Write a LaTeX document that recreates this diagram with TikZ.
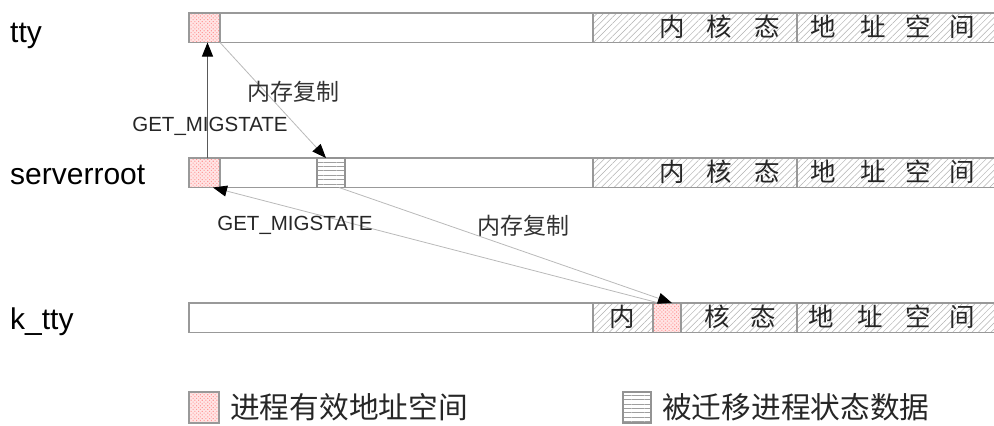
\documentclass[tikz,border=0pt]{standalone}
\usepackage{fontspec}
\setmainfont{Liberation Sans}
\newfontfamily\cjk{Noto Sans CJK SC}
\usetikzlibrary{arrows.meta,patterns.meta}
\begin{document}
\begin{tikzpicture}[x=1pt,y=-1pt,
  rowlbl/.style={anchor=base west,inner sep=0pt,font=\fontsize{30pt}{36pt}\selectfont},
  getlbl/.style={inner sep=0pt,font=\fontsize{20.5pt}{24pt}\selectfont,text=black!85},
  memlbl/.style={inner sep=0pt,font=\cjk\fontsize{23pt}{26pt}\selectfont,text=black!80},
  kchar/.style={inner sep=0pt,font=\cjk\fontsize{25.5pt}{28pt}\selectfont,text=black!85},
  legtext/.style={anchor=west,inner sep=0pt,font=\cjk\fontsize{29.7pt}{34pt}\selectfont,text=black!85},
  barbox/.style={draw=gray!80,line width=1.4pt,fill=white,inner sep=0pt,outer sep=0pt,anchor=north west,minimum height=29.5pt},
  hatchbox/.style={draw=gray!80,line width=1.4pt,inner sep=0pt,outer sep=0pt,anchor=north west,minimum height=29.5pt,
     preaction={fill=white},pattern={Lines[angle=45,distance=4.5pt,line width=0.5pt]},pattern color=gray!60},
  redbox/.style={draw=gray!80,line width=1.4pt,inner sep=0pt,outer sep=0pt,anchor=north west,minimum height=29.5pt,
     preaction={fill=red!10},pattern={Dots[distance=2.6pt,radius=0.75pt,angle=45]},pattern color=red!40},
  stripbox/.style={draw=gray!85,line width=1.4pt,inner sep=0pt,outer sep=0pt,anchor=north west,minimum height=29.5pt,
     preaction={fill=white},pattern={Lines[angle=0,distance=4.4pt,line width=0.8pt]},pattern color=gray!75},
  arr/.style={line width=0.8pt,draw=gray!55,-{Triangle[length=14pt,width=11pt,color=black]}},
  varr/.style={line width=0.9pt,draw=black!65,-{Triangle[length=14pt,width=11pt,color=black]}}
]
\useasboundingbox (0,0) rectangle (994,426);
\clip (0,0) rectangle (994,426);

% row labels
\node[rowlbl] (lt) at (10,42) {tty};
\node[rowlbl] (ls) at (10,184) {serverroot};
\node[rowlbl] (lk) at (10,329) {k\_tty};

% tty bar
\node[barbox,minimum width=812pt] (tbar) at (189,13) {};
\node[hatchbox,minimum width=204pt] (tk1) at (593,13) {};
\node[hatchbox,minimum width=205pt] (tk2) at (797,13) {};
\node[redbox,minimum width=31pt] (tred) at (189,13) {};
\node[kchar] (tc1) at (672,26.5) {内};
\node[kchar] (tc2) at (719,26.5) {核};
\node[kchar] (tc3) at (767,26.5) {态};
\node[kchar] (tc4) at (823,26.5) {地};
\node[kchar] (tc5) at (873,26.5) {址};
\node[kchar] (tc6) at (918,26.5) {空};
\node[kchar] (tc7) at (962,26.5) {间};

% serverroot bar
\node[barbox,minimum width=812pt] (sbar) at (189,158) {};
\node[hatchbox,minimum width=204pt] (sk1) at (593,158) {};
\node[hatchbox,minimum width=205pt] (sk2) at (797,158) {};
\node[redbox,minimum width=31pt] (sred) at (189,158) {};
\node[stripbox,minimum width=28pt] (sstr) at (317,158) {};
\node[kchar] (sc1) at (672,171.5) {内};
\node[kchar] (sc2) at (719,171.5) {核};
\node[kchar] (sc3) at (767,171.5) {态};
\node[kchar] (sc4) at (823,171.5) {地};
\node[kchar] (sc5) at (873,171.5) {址};
\node[kchar] (sc6) at (918,171.5) {空};
\node[kchar] (sc7) at (962,171.5) {间};

% k_tty bar
\node[barbox,minimum width=812pt] (kbar) at (189,303) {};
\node[hatchbox,minimum width=204pt] (kk1) at (593,303) {};
\node[hatchbox,minimum width=205pt] (kk2) at (797,303) {};
\node[redbox,minimum width=28pt] (kred) at (653,303) {};
\node[kchar] (kc1) at (622,316.5) {内};
\node[kchar] (kc2) at (717,316.5) {核};
\node[kchar] (kc3) at (763,316.5) {态};
\node[kchar] (kc4) at (821,316.5) {地};
\node[kchar] (kc5) at (870,316.5) {址};
\node[kchar] (kc6) at (918,316.5) {空};
\node[kchar] (kc7) at (962,316.5) {间};

% connectors
\draw[varr] ([xshift=3pt]sred.north) -- ([xshift=3pt]tred.south);
\draw[arr] (tred.south east) -- ([xshift=-5pt]sstr.north);
\draw[arr] ([xshift=6pt]kred.north west) -- ([xshift=-7pt]sred.south east);
\draw[arr] ([xshift=-6pt]sstr.south east) -- ([xshift=19pt]kred.north west);

% connector labels
\node[getlbl] (g1) at (210,126) {GET\_MIGSTATE};
\node[memlbl] (m1) at (293,92) {内存复制};
\node[getlbl] (g2) at (295,225) {GET\_MIGSTATE};
\node[memlbl] (m2) at (523,226) {内存复制};

% legend
\node[redbox,minimum width=30pt,minimum height=31pt] (lr) at (189,392) {};
\node[legtext] (lrt) at (230,407) {进程有效地址空间};
\node[stripbox,minimum width=28pt,minimum height=31pt] (ls2) at (623,392) {};
\node[legtext] (lst) at (662,407) {被迁移进程状态数据};
\end{tikzpicture}
\end{document}
